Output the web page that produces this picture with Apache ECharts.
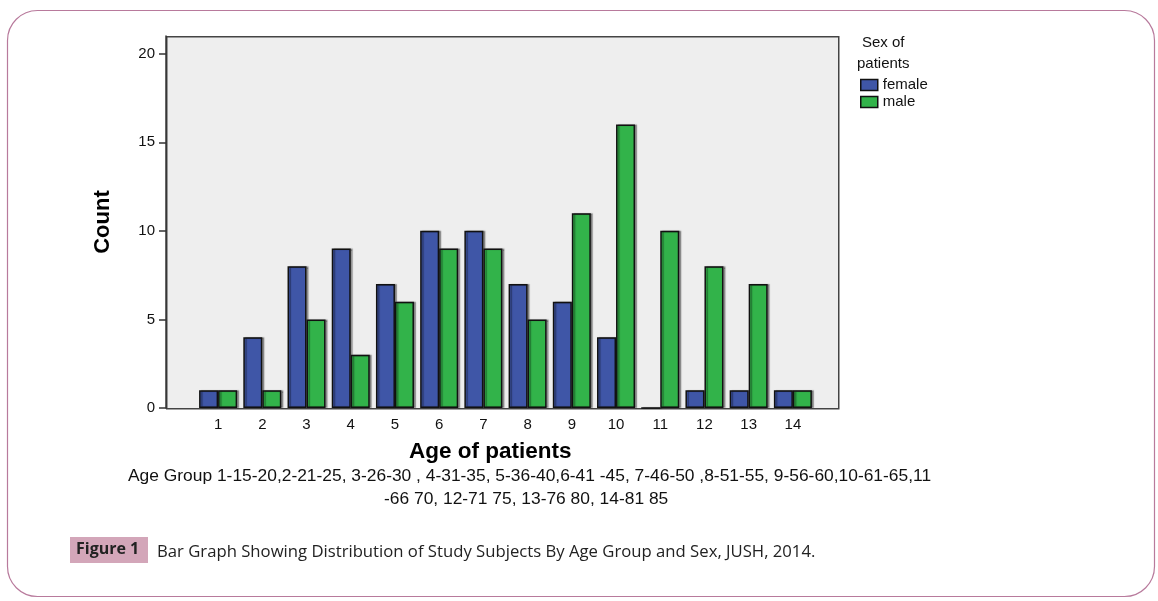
<!DOCTYPE html>
<html><head><meta charset="utf-8">
<script src="https://cdn.jsdelivr.net/npm/echarts@6/dist/echarts.min.js"></script>
<style>html,body{margin:0;padding:0;background:#fff}#c{width:1158px;height:601px}</style>
</head><body><div id="c"></div>
<script>
const categories = ['1','2','3','4','5','6','7','8','9','10','11','12','13','14'];
const female = [1,4,8,9,7,10,10,7,6,4,0,1,1,1];
const male = [1,1,5,3,6,9,9,5,11,16,10,8,7,1];
const seriesNames = ['female','male'];
const yTicks = [0,5,10,15,20];

const chart = echarts.init(document.getElementById('c'));
const barStyle = (c) => ({color:c,borderColor:'#111',borderWidth:1.5,shadowColor:'rgba(0,0,0,0.35)',shadowOffsetX:2,shadowOffsetY:0,shadowBlur:1});
chart.setOption({
  animation:false,
  grid:{left:196,right:343,top:36,bottom:193,show:false},
  xAxis:{type:'category',data:categories,
    axisLine:{show:false},
    axisTick:{alignWithLabel:true,length:6,lineStyle:{color:'#333',width:1.5}},
    axisLabel:{color:'#111',fontFamily:'Liberation Sans',fontSize:15,margin:9}},
  yAxis:{type:'value',min:0,max:21,interval:5,offset:30,
    axisLine:{show:true,lineStyle:{color:'#333',width:1.5}},
    axisTick:{show:true,length:7,lineStyle:{color:'#333',width:1.5}},
    splitLine:{show:false},
    axisLabel:{color:'#111',fontFamily:'Liberation Sans',fontSize:15,margin:11,showMaxLabel:false,
      formatter:(v)=> yTicks.includes(v)?String(v):''},
    name:'Count',nameLocation:'middle',nameGap:52,
    nameTextStyle:{fontFamily:'Liberation Sans',fontWeight:'bold',fontSize:22,color:'#000'}},
  legend:{orient:'vertical',left:855,top:72,itemWidth:17,itemHeight:11,itemGap:1,icon:'rect',
    data:seriesNames,
    itemStyle:{borderColor:'#111',borderWidth:1.5},
    textStyle:{fontFamily:'Liberation Sans',fontSize:15,lineHeight:16,color:'#111'}},
  series:[
    {name:seriesNames[0],type:'bar',data:female,barGap:'0%',barCategoryGap:'14%',itemStyle:barStyle('#3F56A7')},
    {name:seriesNames[1],type:'bar',data:male,barGap:'0%',barCategoryGap:'14%',itemStyle:barStyle('#32B34A')}
  ],
  graphic:[
    {type:'rect',left:5,top:8,shape:{width:1147,height:586,r:30},style:{fill:'none',stroke:'#B87A9C',lineWidth:1.2},silent:true,z:-10},
    {type:'rect',left:166,top:36,shape:{width:672,height:372},style:{fill:'#EEEEEE',stroke:'#444',lineWidth:1.5},silent:true,z:-5},
    {type:'text',left:409,top:440,style:{text:'Age of patients',font:'bold 22.5px "Liberation Sans"',fill:'#000'}},
    {type:'text',left:862,top:35,style:{text:'Sex of',font:'15px "Liberation Sans"',fill:'#111'}},
    {type:'text',left:857,top:56,style:{text:'patients',font:'15px "Liberation Sans"',fill:'#111'}},
    {type:'text',left:128,top:468,style:{text:'Age Group 1-15-20,2-21-25, 3-26-30 , 4-31-35, 5-36-40,6-41 -45, 7-46-50 ,8-51-55, 9-56-60,10-61-65,11',font:'17.4px "Liberation Sans"',fill:'#111'}},
    {type:'text',left:384,top:491,style:{text:'-66 70, 12-71 75, 13-76 80, 14-81 85',font:'17.4px "Liberation Sans"',fill:'#111'}},
    {type:'rect',left:70,top:537,shape:{width:78,height:26},style:{fill:'#D3A6B9'}},
    {type:'text',left:76,top:541,style:{text:'Figure 1',font:'bold 16px "Open Sans"',fill:'#222'}},
    {type:'text',left:157,top:544,style:{text:'Bar Graph Showing Distribution of Study Subjects By Age Group and Sex, JUSH, 2014.',font:'16.7px "Open Sans"',fill:'#222'}}
  ]
});
</script></body></html>
